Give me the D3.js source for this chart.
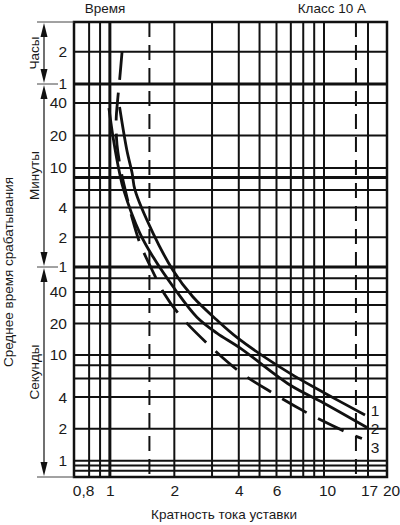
<!DOCTYPE html>
<html>
<head>
<meta charset="utf-8">
<script src="https://cdn.jsdelivr.net/npm/d3@7"></script>
<style>
  body { margin: 0; background: #fff; }
  text { fill: #1a1a1a; }
  .txt { font-family: "Liberation Sans", Arial, sans-serif; font-size: 13.5px; }
  .num { font-family: "Liberation Sans Narrow", "Arial Narrow", "Liberation Sans", sans-serif; font-size: 15.5px; }
</style>
</head>
<body>
<div id="chart"></div>
<script>
// Curves: multiple of the set current (x) and average trip time in seconds (t)
var curve1X = [1.11, 1.2, 1.27, 1.31, 1.59, 1.97, 2.44, 3.16, 3.96, 6.94, 10, 16.4];
var curve1T = [2200, 880, 534, 360, 132, 57, 36, 21.6, 14.5, 6.7, 4.4, 2.7];

var curve2X = [0.99, 1.04, 1.11, 1.16, 1.38, 1.59, 2.01, 2.55, 3.16, 4.05, 6.94, 10, 16.8];
var curve2T = [2150, 1090, 534, 360, 132, 76, 42, 23, 16.2, 11.7, 5.2, 3.5, 2.06];

var curve3X = [1.14, 1.11, 1.09, 1.07, 1.08, 1.13, 1.18, 1.27, 1.38, 1.55, 1.79, 2.12, 2.87, 4.05, 5.78, 8.6, 13.2, 15.8];
var curve3T = [7200, 3900, 2700, 1670, 980, 547, 360, 188, 105, 60, 39, 24, 12.7, 6.9, 4.35, 2.74, 1.85, 1.62];

var curveNames = ["1", "2", "3"];

// Grid and ticks
var xGridValues = [0.8, 0.9, 1, 2, 3, 4, 5, 6, 7, 8, 9, 10, 17];
var xDashValues = [1.53, 14.7];
var xTickValues = [0.8, 1, 2, 4, 6, 10, 17, 20];
var xTickLabels = ["0,8", "1", "2", "4", "6", "10", "17", "20"];

// time grid in seconds
var yGridValues = [0.8, 0.9, 1, 2, 4, 6, 8, 10, 20, 30, 40, 50, 60,
                   120, 240, 360, 480, 600, 1200, 2400, 3600, 7200];
var yTickValues = [7200, 3600, 2400, 1200, 600, 240, 120, 60, 40, 20, 10, 4, 2, 1];
var yTickLabels = ["2", "1", "40", "20", "10", "4", "2", "1", "40", "20", "10", "4", "2", "1"];

var sectionNames = ["Часы", "Минуты", "Секунды"];
var sectionBounds = [13700, 3600, 60, 0.7];

var svgWidth = 400;
var svgHeight = 525;
var plot = { left: 74, right: 387, top: 22, bottom: 477 };

var svg = d3.select("#chart")
  .append("svg")
  .attr("width", svgWidth)
  .attr("height", svgHeight);

// the paper scales are log but not quite uniform, so use piecewise log scales
var xScale = d3.scaleLog()
  .domain([0.68, 10, 17, 20])
  .range([plot.left, 324, 368, plot.right]);

var yScale = d3.scaleLog()
  .domain([0.7, 10, 40, 60, 600, 3600, 13700])
  .range([plot.bottom, 355, 292, 267, 168, 84, plot.top]);

var ink = "#111";

// grid
var grid = svg.append("g").attr("stroke", ink).attr("fill", "none");

grid.selectAll(".vline")
  .data(xGridValues)
  .enter()
  .append("line")
  .attr("x1", d => xScale(d))
  .attr("x2", d => xScale(d))
  .attr("y1", plot.top)
  .attr("y2", plot.bottom)
  .attr("stroke-width", d => d === 1 ? 3 : 2);

grid.selectAll(".dline")
  .data(xDashValues)
  .enter()
  .append("line")
  .attr("x1", d => xScale(d))
  .attr("x2", d => xScale(d))
  .attr("y1", plot.top)
  .attr("y2", plot.bottom)
  .attr("stroke-width", 2)
  .attr("stroke-dasharray", "15,8");

grid.selectAll(".hline")
  .data(yGridValues)
  .enter()
  .append("line")
  .attr("x1", plot.left)
  .attr("x2", plot.right)
  .attr("y1", d => yScale(d))
  .attr("y2", d => yScale(d))
  .attr("stroke-width", d => (d === 3600 || d === 60 || d === 480) ? 3 : 2);

grid.append("rect")
  .attr("x", plot.left)
  .attr("y", plot.top)
  .attr("width", plot.right - plot.left)
  .attr("height", plot.bottom - plot.top)
  .attr("stroke-width", 2.5);

// section marks left of the axis
var arrowX = 44;
svg.selectAll(".sect")
  .data(sectionBounds)
  .enter()
  .append("line")
  .attr("x1", 37)
  .attr("x2", (d, i) => (i === 0 || i === sectionBounds.length - 1) ? plot.left : 58)
  .attr("y1", d => yScale(d))
  .attr("y2", d => yScale(d))
  .attr("stroke", "#444")
  .attr("stroke-width", 1);

sectionNames.forEach(function(name, i) {
  var y0 = yScale(sectionBounds[i]) + 1;
  var y1 = yScale(sectionBounds[i + 1]) - 1;
  svg.append("line")
    .attr("x1", arrowX).attr("x2", arrowX)
    .attr("y1", y0 + 4).attr("y2", y1 - 4)
    .attr("stroke", ink).attr("stroke-width", 1.2);
  svg.append("path")
    .attr("d", `M${arrowX},${y0} L${arrowX - 3.5},${y0 + 14} L${arrowX + 3.5},${y0 + 14} Z`)
    .attr("fill", ink);
  svg.append("path")
    .attr("d", `M${arrowX},${y1} L${arrowX - 3.5},${y1 - 14} L${arrowX + 3.5},${y1 - 14} Z`)
    .attr("fill", ink);
  svg.append("text")
    .attr("class", "txt")
    .attr("transform", `translate(39, ${(y0 + y1) / 2}) rotate(-90)`)
    .style("text-anchor", "middle")
    .text(name);
});

// axes
var bottomAxis = d3.axisBottom(xScale)
  .tickValues(xTickValues)
  .tickFormat((d, i) => xTickLabels[i])
  .tickSize(0)
  .tickPadding(8);

var leftAxis = d3.axisLeft(yScale)
  .tickValues(yTickValues)
  .tickFormat((d, i) => yTickLabels[i])
  .tickSize(0)
  .tickPadding(7);

var xAxisG = svg.append("g")
  .attr("transform", `translate(0, ${plot.bottom})`)
  .call(bottomAxis);

var yAxisG = svg.append("g")
  .attr("transform", `translate(${plot.left}, 0)`)
  .call(leftAxis);

[xAxisG, yAxisG].forEach(function(g) {
  g.select(".domain").remove();
  g.attr("font-size", null).attr("font-family", null);
  g.selectAll("text").attr("class", "num");
});

// the printed labels sit a little off their grid lines
var xLabelShift = { "0,8": -6, "10": 3, "17": 1, "20": 4 };
xAxisG.selectAll("text")
  .attr("dx", (d, i) => xLabelShift[xTickLabels[i]] || 0);

// curves
var curveData = [
  d3.zip(curve1X, curve1T),
  d3.zip(curve2X, curve2T),
  d3.zip(curve3X, curve3T)
];

var line = d3.line()
  .x(d => xScale(d[0]))
  .y(d => yScale(d[1]))
  .curve(d3.curveCatmullRom.alpha(0.5));

svg.selectAll(".curve")
  .data(curveData)
  .enter()
  .append("path")
  .attr("d", line)
  .attr("fill", "none")
  .attr("stroke", ink)
  .attr("stroke-width", 2.8)
  .attr("stroke-dasharray", (d, i) => i === 2 ? "28,13" : null);

var labelDy = [1, 7, 14];
svg.selectAll(".clabel")
  .data(curveData)
  .enter()
  .append("text")
  .attr("class", "num")
  .attr("x", plot.right - 12)
  .attr("y", (d, i) => yScale(d[d.length - 1][1]) + labelDy[i])
  .style("text-anchor", "middle")
  .text((d, i) => curveNames[i]);

// titles
svg.append("text")
  .attr("class", "txt")
  .attr("x", 105)
  .attr("y", 13)
  .style("text-anchor", "middle")
  .text("Время");

svg.append("text")
  .attr("class", "txt")
  .attr("x", 366)
  .attr("y", 13)
  .style("text-anchor", "end")
  .text("Класс 10 А");

svg.append("text")
  .attr("class", "txt")
  .attr("transform", "translate(13, 272) rotate(-90)")
  .style("text-anchor", "middle")
  .text("Среднее время срабатывания");

svg.append("text")
  .attr("class", "txt")
  .attr("x", 224)
  .attr("y", 519)
  .style("text-anchor", "middle")
  .text("Кратность тока уставки");
</script>
</body>
</html>
